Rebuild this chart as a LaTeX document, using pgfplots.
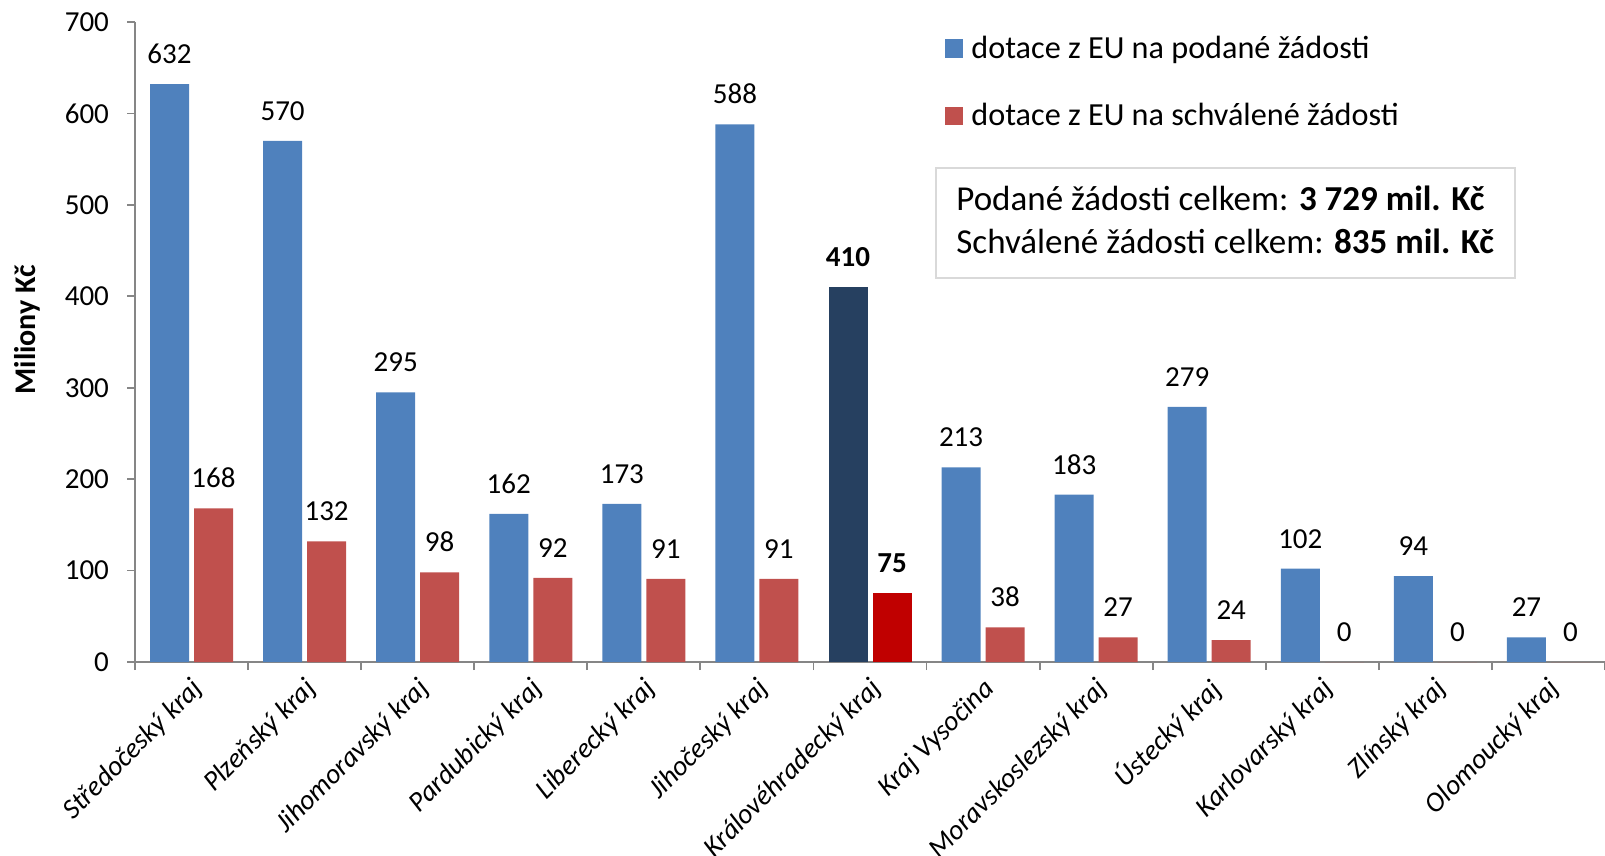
\documentclass[border=0pt]{standalone}
\usepackage{fontspec}
\setmainfont{Carlito}
\usepackage{pgfplots}
\pgfplotsset{compat=1.18}
\definecolor{podane}{RGB}{79,129,189}
\definecolor{schvalene}{RGB}{192,80,77}
\definecolor{podanehl}{RGB}{38,64,96}
\definecolor{schvalenehl}{RGB}{192,0,0}
\definecolor{osa}{RGB}{134,134,134}
\definecolor{ramec}{RGB}{217,217,217}

\begin{document}
\begin{tikzpicture}
\begin{axis}[
    name=ax,
    scale only axis,
    width=735pt, height=320pt,
    ybar, bar width=19.5pt,
    xmin=-0.5, xmax=12.5, ymin=0, ymax=700,
    axis x line=bottom, axis y line=left,
    axis line style={-, draw=osa, line width=0.9pt},
    ytick={0,100,...,700},
    xtick={0,...,12},
    xticklabels={Středočeský kraj, Plzeňský kraj, Jihomoravský kraj, Pardubický kraj, Liberecký kraj, Jihočeský kraj, Královéhradecký kraj, Kraj Vysočina, Moravskoslezský kraj, Ústecký kraj, Karlovarský kraj, Zlínský kraj, Olomoucký kraj},
    minor xtick={-0.5,0.5,...,12.5},
    major x tick style={draw=none},
    tick style={draw=osa, line width=0.9pt},
    major tick length=4pt, minor tick length=4pt,
    tick align=outside,
    /pgf/number format/assume math mode=true,
    yticklabel style={xshift=-5.5pt, font=\fontsize{14.5}{17}\selectfont},
    xticklabel style={xshift=6pt, yshift=-5pt, rotate=45, anchor=east, font=\itshape\fontsize{14}{17}\selectfont},
    nodes near coords,
    every node near coord/.append style={font=\fontsize{14.5}{17}\selectfont, anchor=south, inner sep=0pt, yshift=10pt},
    legend style={at={(rel axis cs:0.5467,0.985)}, anchor=north west, draw=none, fill=none,
        font=\fontsize{16.1}{19}\selectfont, row sep=21pt, nodes={inner sep=0pt},
        /tikz/every odd column/.append style={column sep=4pt}},
    legend cell align=left,
    legend image code/.code={\draw[#1, draw=none] (0pt,-4.6pt) rectangle (9.2pt,4.6pt);},
    clip=false,
  ]
  \addplot[fill=podane, draw=none, bar shift=-11pt] coordinates {
    (0,632) (1,570) (2,295) (3,162) (4,173) (5,588)
    (7,213) (8,183) (9,279) (10,102) (11,94) (12,27)
  };
  \addlegendentry{dotace z EU na podané žádosti}
  \addplot[fill=schvalene, draw=none, bar shift=11pt] coordinates {
    (0,168) (1,132) (2,98) (3,92) (4,91) (5,91)
    (7,38) (8,27) (9,24) (10,0) (11,0) (12,0)
  };
  \addlegendentry{dotace z EU na schválené žádosti}
  % zvýrazněný Královéhradecký kraj
  \addplot[fill=podanehl, draw=none, bar shift=-11pt, forget plot,
    every node near coord/.append style={font=\bfseries\fontsize{14.5}{17}\selectfont}] coordinates {(6,410)};
  \addplot[fill=schvalenehl, draw=none, bar shift=11pt, forget plot,
    every node near coord/.append style={font=\bfseries\fontsize{14.5}{17}\selectfont}] coordinates {(6,75)};

  \node[rotate=90, font=\bfseries\fontsize{15}{18}\selectfont] at ([xshift=-54pt]axis description cs:0,0.519) {Miliony Kč};
  % rámeček se součty
  \draw[ramec, line width=1pt] (rel axis cs:0.5449,0.7719) rectangle (rel axis cs:0.9388,0.6000);
  \node[anchor=west, inner sep=0pt, align=left, font=\fontsize{17.5}{21.5}\selectfont]
    at (rel axis cs:0.5585,0.6906)
    {Podané žádosti celkem: \textbf{3 729 mil. Kč}\\Schválené žádosti celkem: \textbf{835 mil. Kč}};
\end{axis}
\pgfresetboundingbox
\useasboundingbox ([xshift=-67.5pt,yshift=-97pt]ax.south west) rectangle ([yshift=11pt]ax.north east);
\end{tikzpicture}
\end{document}
